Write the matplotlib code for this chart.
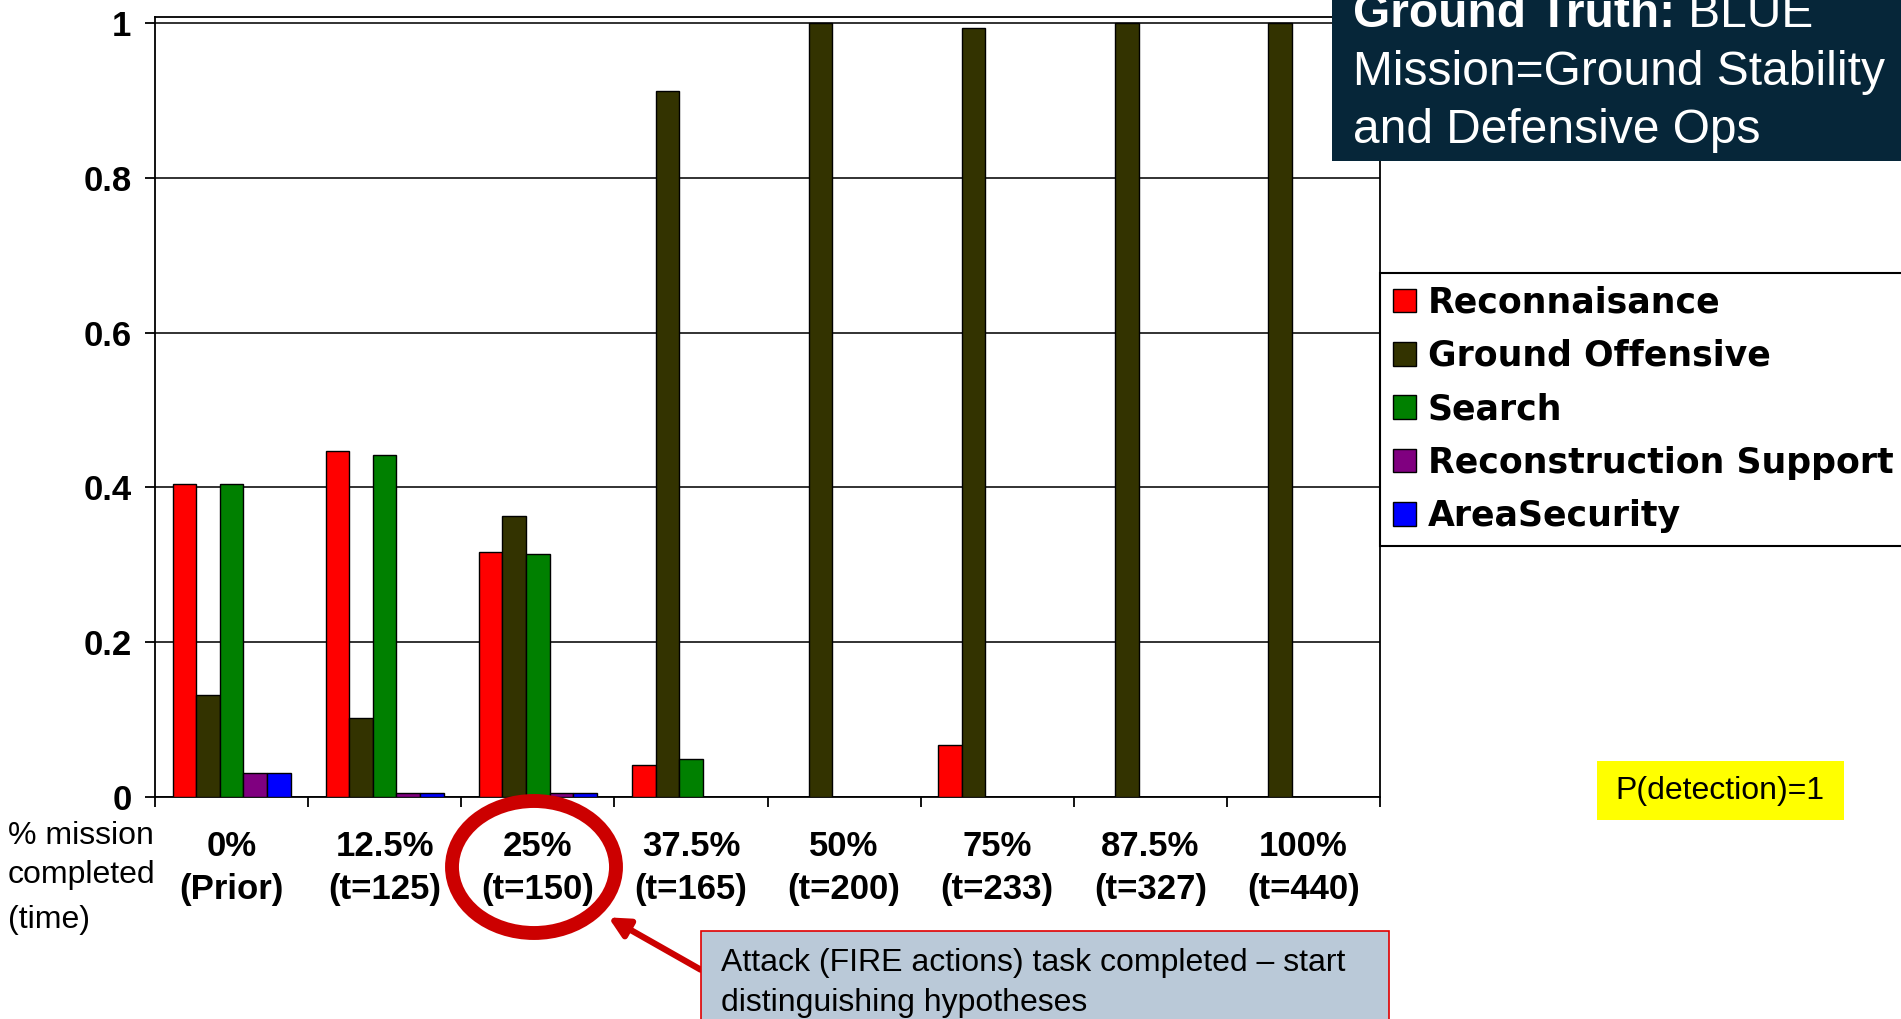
import numpy as np
import matplotlib
matplotlib.use("Agg")
import matplotlib.pyplot as plt
from matplotlib.patches import Rectangle, Ellipse
from matplotlib.text import Annotation

# --- data ---
pct_labels = ["0%", "12.5%", "25%", "37.5%", "50%", "75%", "87.5%", "100%"]
time_labels = ["(Prior)", "(t=125)", "(t=150)", "(t=165)", "(t=200)", "(t=233)", "(t=327)", "(t=440)"]

series_names = ["Reconnaisance", "Ground Offensive", "Search", "Reconstruction Support", "AreaSecurity"]
series_colors = ["#ff0000", "#333300", "#008000", "#800080", "#0000ff"]

reconnaisance = [0.404, 0.447, 0.316, 0.041, 0.0, 0.067, 0.0, 0.0]
ground_offensive = [0.131, 0.101, 0.363, 0.912, 1.0, 0.994, 1.0, 1.0]
search = [0.404, 0.441, 0.314, 0.049, 0.0, 0.0, 0.0, 0.0]
reconstruction = [0.031, 0.005, 0.005, 0.0, 0.0, 0.0, 0.0, 0.0]
area_security = [0.031, 0.005, 0.005, 0.0, 0.0, 0.0, 0.0, 0.0]

y_ticks = [0, 0.2, 0.4, 0.6, 0.8, 1.0]
y_ticklabels = ["0", "0.2", "0.4", "0.6", "0.8", "1"]

plt.rcParams["font.family"] = ["Liberation Sans", "DejaVu Sans"]

W, H = 1901, 1019


def fx(px):
    return px / W


def fy(py):
    return 1 - py / H


fig = plt.figure(figsize=(W / 100, H / 100), dpi=100)
ax = fig.add_axes([fx(155), fy(796.5), fx(1380) - fx(155), fy(17) - fy(796.5)])

all_series = [reconnaisance, ground_offensive, search, reconstruction, area_security]
x = np.arange(len(pct_labels)) + 0.5
bw = 0.154
for k, (vals, col, name) in enumerate(zip(all_series, series_colors, series_names)):
    ax.bar(x + (k - 2) * bw, vals, width=bw, color=col, edgecolor="black",
           linewidth=1.0, label=name, zorder=3)

ax.set_xlim(0, len(pct_labels))
ax.set_ylim(0, 1.008)

ax.set_yticks(y_ticks)
ax.set_yticklabels(y_ticklabels, fontsize=25, fontweight="bold")
ax.tick_params(axis="y", length=7, width=1.3, pad=10)

ax.set_xticks(np.arange(len(pct_labels) + 1))
ax.set_xticklabels([])
ax.set_xticks(x, minor=True)
ax.set_xticklabels([p + "\n" + t for p, t in zip(pct_labels, time_labels)], minor=True)
ax.tick_params(axis="x", which="major", length=7, width=1.3)
ax.tick_params(axis="x", which="minor", length=0, pad=24)
for lab in ax.get_xticklabels(minor=True):
    lab.set_fontsize(25)
    lab.set_fontweight("bold")
    lab.set_linespacing(1.38)

ax.yaxis.grid(True, color="#222222", linewidth=1.3)
ax.set_axisbelow(True)
for sp in ax.spines.values():
    sp.set_color("black")
    sp.set_linewidth(1.3)

leg = ax.legend(loc="upper left", bbox_to_anchor=(fx(1380), fy(273)),
                bbox_transform=fig.transFigure,
                prop=dict(family="DejaVu Sans", weight="bold", size=25),
                frameon=True, fancybox=False, edgecolor="black", framealpha=1,
                borderpad=0.36, borderaxespad=0, handlelength=0.67,
                handleheight=0.67, handletextpad=0.35, labelspacing=0.56)
leg.get_frame().set_linewidth(1.5)

# ground-truth box in the top right corner
fig.add_artist(Rectangle((fx(1332), fy(161)), 1 - fx(1332) + 0.01, 161 / H + 0.01,
                         transform=fig.transFigure, facecolor="#062639",
                         edgecolor="none", zorder=10))
t1 = fig.text(fx(1353), fy(27), "Ground Truth:", color="white", fontsize=34.5,
              fontweight="bold", va="baseline", ha="left", zorder=11)
fig.add_artist(Annotation(" BLUE", xy=(1, 0), xycoords=t1, color="white",
                          fontsize=34.5, va="bottom", ha="left", zorder=11,
                          annotation_clip=False))
fig.text(fx(1353), fy(85), "Mission=Ground Stability", color="white",
         fontsize=34.5, va="baseline", ha="left", zorder=11)
fig.text(fx(1353), fy(143), "and Defensive Ops", color="white",
         fontsize=34.5, va="baseline", ha="left", zorder=11)

# P(detection) tag
fig.add_artist(Rectangle((fx(1597), fy(820)), fx(1844) - fx(1597), 59 / H,
                         transform=fig.transFigure, facecolor="#ffff00",
                         edgecolor="none", zorder=10))
fig.text(fx(1720), fy(791), "P(detection)=1", fontsize=23, ha="center",
         va="center", zorder=11)

# axis caption on the left
fig.text(fx(8), fy(836), "% mission", fontsize=23, ha="left", va="center")
fig.text(fx(8), fy(875), "completed", fontsize=23, ha="left", va="center")
fig.text(fx(8), fy(920), "(time)", fontsize=23, ha="left", va="center")

# red circle round the 25% label and callout
fig.add_artist(Ellipse((fx(534), fy(867)), 164 / W, 132 / H,
                       transform=fig.transFigure, facecolor="none",
                       edgecolor="#cc0000", linewidth=10, zorder=8))
ax.annotate("", xy=(fx(606), fy(916)), xycoords=fig.transFigure,
            xytext=(fx(703), fy(971)), textcoords=fig.transFigure,
            arrowprops=dict(arrowstyle="-|>,head_length=1.2,head_width=0.6",
                            color="#cc0000", lw=4.5),
            annotation_clip=False)
fig.add_artist(Rectangle((fx(701), fy(1030)), fx(1389) - fx(701), 99 / H,
                         transform=fig.transFigure, facecolor="#bac9d8",
                         edgecolor="#e00000", linewidth=1.2, zorder=9))
fig.text(fx(721), fy(963.5), "Attack (FIRE actions) task completed \u2013 start",
         fontsize=23, ha="left", va="center", zorder=11)
fig.text(fx(721), fy(1002.5), "distinguishing hypotheses",
         fontsize=23, ha="left", va="center", zorder=11)

fig.savefig("out.png", dpi=100)
